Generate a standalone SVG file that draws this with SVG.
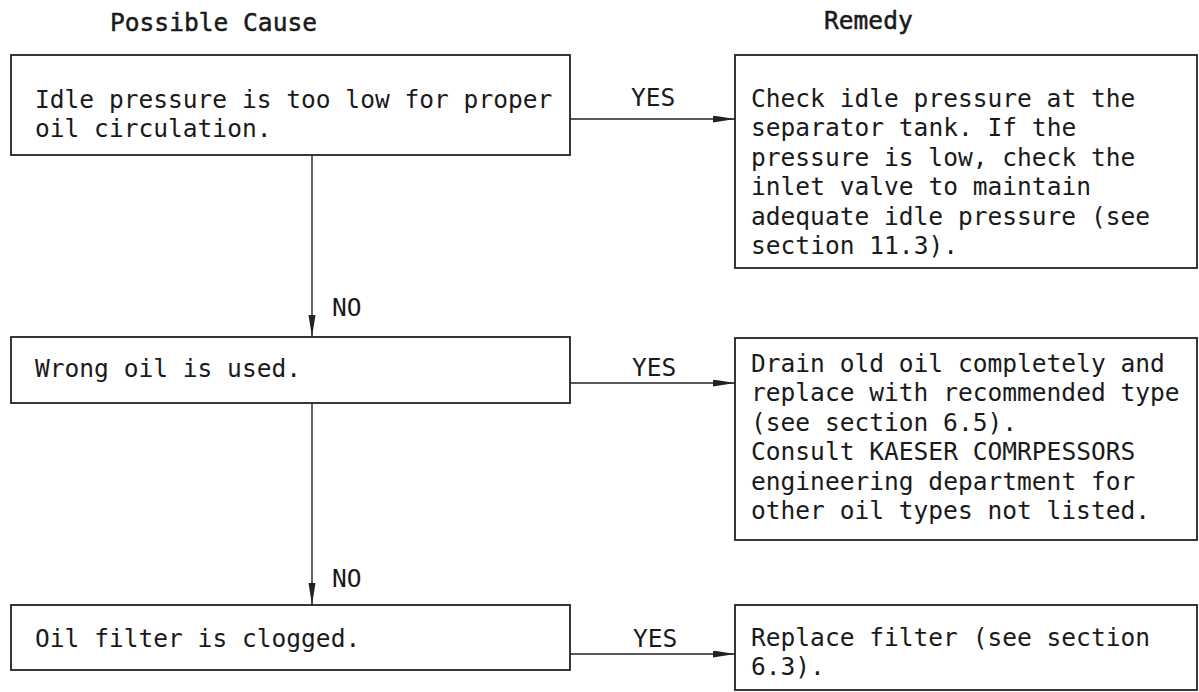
<svg xmlns="http://www.w3.org/2000/svg" width="1199" height="692" viewBox="0 0 1199 692">
<style>
  text { font-family: "DejaVu Sans Mono", "Liberation Mono", monospace; font-size: 25.3px; fill: #1a1a1a; }
  .hdr { stroke: #1a1a1a; stroke-width: 0.5; }
  .box { fill: #fff; stroke: #222; stroke-width: 1.8; }
  .conn { fill: none; stroke: #222; stroke-width: 1.4; }
</style>
<defs>
  <marker id="arr" markerUnits="userSpaceOnUse" markerWidth="22" markerHeight="8" refX="22" refY="3.5" orient="auto">
    <path d="M0,0 L22,3.5 L0,7 Z" fill="#222"/>
  </marker>
</defs>
<rect width="1199" height="692" fill="#fff"/>

<g id="headers">
  <text class="hdr" x="110" y="31" textLength="207" lengthAdjust="spacingAndGlyphs">Possible Cause</text>
  <text class="hdr" x="824" y="29" textLength="88.7" lengthAdjust="spacingAndGlyphs">Remedy</text>
</g>

<g id="connectors">
  <line class="conn" x1="570" y1="119" x2="735" y2="119" marker-end="url(#arr)"/>
  <line class="conn" x1="570" y1="383" x2="735" y2="383" marker-end="url(#arr)"/>
  <line class="conn" x1="570" y1="654" x2="735" y2="654" marker-end="url(#arr)"/>
  <line class="conn" x1="312" y1="155" x2="312" y2="337" marker-end="url(#arr)"/>
  <line class="conn" x1="312" y1="403" x2="312" y2="605" marker-end="url(#arr)"/>
  <text x="631" y="106" textLength="44.3" lengthAdjust="spacingAndGlyphs">YES</text>
  <text x="632" y="376" textLength="44.3" lengthAdjust="spacingAndGlyphs">YES</text>
  <text x="633" y="647" textLength="44.3" lengthAdjust="spacingAndGlyphs">YES</text>
  <text x="332" y="316" textLength="29.6" lengthAdjust="spacingAndGlyphs">NO</text>
  <text x="332" y="587" textLength="29.6" lengthAdjust="spacingAndGlyphs">NO</text>
</g>

<g id="cause1">
  <rect class="box" x="11" y="55" width="559" height="100"/>
  <text x="35" y="108" textLength="517.3" lengthAdjust="spacingAndGlyphs">Idle pressure is too low for proper</text>
  <text x="35" y="137" textLength="236.5" lengthAdjust="spacingAndGlyphs">oil circulation.</text>
</g>

<g id="cause2">
  <rect class="box" x="11" y="337" width="559" height="66"/>
  <text x="35" y="377" textLength="266" lengthAdjust="spacingAndGlyphs">Wrong oil is used.</text>
</g>

<g id="cause3">
  <rect class="box" x="11" y="605" width="559" height="65"/>
  <text x="35" y="647" textLength="325.2" lengthAdjust="spacingAndGlyphs">Oil filter is clogged.</text>
</g>

<g id="remedy1">
  <rect class="box" x="735" y="55" width="462" height="213"/>
  <text x="751" y="106.5" textLength="384.3" lengthAdjust="spacingAndGlyphs">Check idle pressure at the</text>
  <text x="751" y="136" textLength="325.2" lengthAdjust="spacingAndGlyphs">separator tank. If the</text>
  <text x="751" y="165.5" textLength="384.3" lengthAdjust="spacingAndGlyphs">pressure is low, check the</text>
  <text x="751" y="195" textLength="340" lengthAdjust="spacingAndGlyphs">inlet valve to maintain</text>
  <text x="751" y="224.5" textLength="399" lengthAdjust="spacingAndGlyphs">adequate idle pressure (see</text>
  <text x="751" y="254" textLength="207" lengthAdjust="spacingAndGlyphs">section 11.3).</text>
</g>

<g id="remedy2">
  <rect class="box" x="735" y="338" width="462" height="202"/>
  <text x="751" y="371.5" textLength="413.8" lengthAdjust="spacingAndGlyphs">Drain old oil completely and</text>
  <text x="751" y="401" textLength="428.6" lengthAdjust="spacingAndGlyphs">replace with recommended type</text>
  <text x="751" y="430.5" textLength="266" lengthAdjust="spacingAndGlyphs">(see section 6.5).</text>
  <text x="751" y="460" textLength="384.3" lengthAdjust="spacingAndGlyphs">Consult KAESER COMRPESSORS</text>
  <text x="751" y="489.5" textLength="384.3" lengthAdjust="spacingAndGlyphs">engineering department for</text>
  <text x="751" y="519" textLength="399" lengthAdjust="spacingAndGlyphs">other oil types not listed.</text>
</g>

<g id="remedy3">
  <rect class="box" x="735" y="605" width="462" height="85"/>
  <text x="751" y="646" textLength="399" lengthAdjust="spacingAndGlyphs">Replace filter (see section</text>
  <text x="751" y="675" textLength="73.9" lengthAdjust="spacingAndGlyphs">6.3).</text>
</g>
</svg>
